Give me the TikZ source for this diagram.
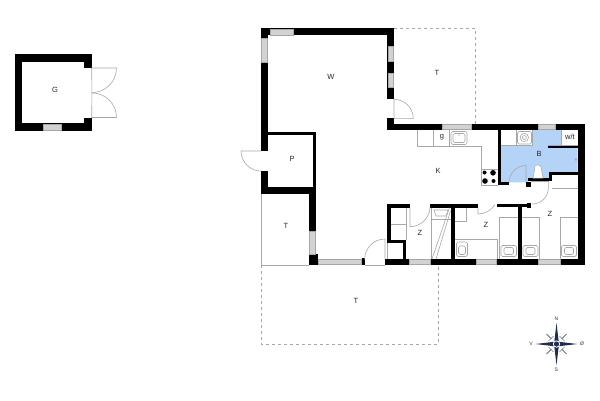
\documentclass[tikz,border=0pt]{standalone}
\usepackage{fontspec}
\setmainfont{Liberation Sans}
\definecolor{bluefill}{HTML}{B5D3F7}
\definecolor{thinline}{HTML}{A8A8A8}
\definecolor{compassblue}{HTML}{1F2F4F}
\tikzset{
  win/.style={fill=gray!35,draw=gray!70,line width=0.5pt},
  thinln/.style={draw=thinline,line width=0.6pt},
  terrace/.style={draw=thinline,line width=0.7pt,dash pattern=on 3pt off 3pt},
  lbl/.style={font=\fontsize{7.5}{8}\selectfont,text=black!85,inner sep=0pt},
  clbl/.style={font=\fontsize{5}{5}\selectfont,text=black!80,inner sep=0pt},
}
\newcommand{\wl}[2]{\fill[black] (#1) rectangle (#2);}
\newcommand{\wn}[2]{\draw[win] (#1) rectangle (#2);}
\newcommand{\pillow}[2]{\draw[thinln,rounded corners=1.5pt] (#1) rectangle (#2);}
\begin{document}
\begin{tikzpicture}[x=1pt,y=-1pt]
\useasboundingbox (0,0) rectangle (600,400);
\fill[white] (0,0) rectangle (600,400);

% terraces
\draw[terrace] (394,28.3) -- (475.7,28.3) -- (475.7,123.5);
\draw[terrace] (261,265) -- (261,344) -- (438.3,344) -- (438.3,265);
\draw[thinln] (261,194) -- (261,265) -- (309,265);
\draw[thinln] (364.7,265) -- (385,265);

% bathroom floor
\fill[bluefill] (500.7,145) -- (532.7,145) -- (532.7,130) -- (561.7,130) -- (561.7,145) -- (548.3,145)
  -- (548.3,148) -- (577.7,148) -- (577.7,172.7) -- (549,172.7) -- (549,178) -- (528,178) -- (528,182.3)
  -- (500.7,182.3) -- cycle;

% garage
\wl{15,54.3}{91.7,61.7}
\wl{15,54.3}{22.3,130.7}
\wl{15,123.3}{91.7,130.7}
\wl{84,54.3}{91.7,68}
\wl{84,117.5}{91.7,130.7}
\wn{43.3,123.8}{61.7,130.5}
\draw[thinln] (91.7,68) -- (116.5,68) arc[start angle=0,end angle=90,radius=24.6] -- cycle;
\draw[thinln] (91.7,117.5) -- (116.5,117.5) arc[start angle=0,end angle=-90,radius=24.6] -- cycle;

% outer walls of the house
\wl{261,28.3}{394,35}
\wl{261,28.3}{268,151}
\wl{261,171}{268,194}
\wl{387.3,28.3}{394,99.3}
\wl{387.3,118.3}{394,130}
\wl{387.3,123.5}{585,130}
\wl{577.7,123.5}{585,265}
\wl{261,187.3}{316,194}
\wl{268,131.7}{316,135.3}
\wl{313,131.7}{316,194}
\wl{309,187.3}{316,254.3}
\wl{309,254.3}{318.3,265}
\wl{361.7,258.3}{364.7,265}
\wl{384.7,259}{409,265}
\wl{430,259}{476.7,265}
\wl{496.7,259}{538.3,265}
\wl{560,259}{585,265}

% windows
\wn{270.7,28.8}{293.7,34.8}
\wn{261.5,38.3}{267.5,62.3}
\wn{387.8,46}{393.5,61}
\wn{387.8,73.3}{393.5,87.7}
\wn{442.7,124}{471.7,129.7}
\wn{538.3,124}{555,129.7}
\wn{309.5,231}{315.5,254.3}
\wn{318.3,258.8}{361.7,264.7}
\wn{409,259.5}{430,264.7}
\wn{476.7,259.5}{496.7,264.7}
\wn{538.3,259.5}{560,264.7}

% inner walls
\wl{497.5,130}{500.7,185.3}
\wl{497.5,182.3}{509,185.3}
\wl{526,182}{531,186.5}
\wl{528,178}{552,181}
\wl{549,172.7}{552,181}
\wl{549,172}{577.7,175}
\wl{548.3,145}{577.7,148}
\wl{387.3,204.3}{410,207.7}
\wl{387.3,204.3}{390.7,243}
\wl{387.3,240}{406,243}
\wl{403,240}{406,259}
\wl{430,204.3}{477.7,207.7}
\wl{450.7,204.3}{455,259}
\wl{497.3,204.3}{531,207.2}
\wl{526.5,203.3}{531,208}
\wl{518.3,204.3}{521.7,259}

% doors
\draw[thinln] (394,99.3) arc[start angle=-90,end angle=0,radius=19.3] -- (394,118.6) -- cycle;
\draw[thinln] (261,151) -- (241,151) arc[start angle=180,end angle=90,radius=20];
\draw[thinln] (385,259) -- (385,239) arc[start angle=-90,end angle=-180,radius=20.3];
\draw[thinln] (526,182) -- (526,165.5) arc[start angle=-90,end angle=-180,radius=17];
\draw[thinln] (548.3,181) -- (548.3,188) arc[start angle=0,end angle=90,radius=16];
\draw[thinln] (410,207.7) -- (410,226.7) arc[start angle=90,end angle=0,radius=20];
\draw[thinln] (478,207.7) -- (478,214) arc[start angle=90,end angle=32,radius=20];

% kitchen
\draw[thinln] (417.3,130) -- (417.3,146) -- (481,146) -- (481,185) -- (497.5,185);
\draw[thinln] (433.3,130) -- (433.3,146);
\draw[thinln] (449.3,130) -- (449.3,146);
\draw[thinln,rounded corners=2pt] (451,131.5) rectangle (467,144.5);
\draw[thinln,rounded corners=2pt] (453,133.5) rectangle (465,142.5);
\fill[black!70] (459,135) circle (0.5);
\draw[thinln] (481,169) -- (497.5,169);
\fill[black] (484.5,172.5) circle (2);
\fill[black] (493,172.8) circle (2.8);
\fill[black] (485,181) circle (2.8);
\fill[black] (493.5,181) circle (2);

% bathroom fittings
\fill[white] (500.7,130) rectangle (532.7,145);
\draw[thinln] (500.7,145) -- (532.7,145) -- (532.7,130);
\draw[thinln] (516.5,130) -- (516.5,145);
\draw[thinln,rounded corners=1.5pt] (517.5,131.5) rectangle (531.5,144);
\draw[thinln] (524.3,137.5) circle (4.2);
\draw[thinln] (524.3,137.5) circle (2);
\fill[white,draw=thinline,line width=0.5pt] (533,178) -- (534.5,170) .. controls (533,163) and (542,163) .. (541.5,170) -- (543,178) -- cycle;
\fill[white] (561.7,130) rectangle (577.7,145);
\draw[thinln] (561.7,130) -- (561.7,145);
\draw[thinln] (548.3,145) -- (577.7,145);
\draw[thinln,line width=0.4pt] (576,159.5) circle (1);
\draw[thinln] (552,188.3) -- (577.7,188.3);
\draw[thinln] (531,181.5) -- (549,181.5);

% left bedroom closets
\draw[thinln] (390.7,224) -- (406,224) -- (406,240);
\draw[thinln] (406,207.7) -- (406,224);
\draw[thinln] (387.5,243) -- (387.5,259);
\draw[thinln] (431.5,207.7) -- (431.5,259);
\draw[thinln] (431.5,219) -- (450.7,219);
\draw[thinln] (434,210) -- (436,216) -- (446,216) -- (448,210) -- cycle;
\draw[thinln] (449.5,207.7) -- (432,259);
\draw[thinln] (450.5,211) -- (436,259);

% middle room
\draw[thinln] (455,221) -- (466.7,221) -- (466.7,207.7);
\draw[thinln] (455,239) -- (497.5,239) -- (497.5,259);
\pillow{456.5,242}{467.5,256.5}
\pillow{458.5,246}{465.5,254.5}

% beds
\draw[thinln] (518.3,217) -- (499.3,217) -- (499.3,259);
\draw[thinln] (521.7,217) -- (539.3,217) -- (539.3,259);
\draw[thinln] (577.7,217) -- (560,217) -- (560,259);
\pillow{501,245.5}{516.5,256.5}
\pillow{504,247.5}{513.5,254.5}
\pillow{523,245.5}{538,256.5}
\pillow{526,247.5}{535,254.5}
\pillow{561.5,245.5}{576.5,256.5}
\pillow{564.5,247.5}{573.5,254.5}

% labels
\node[lbl] (lG) at (55,90) {G};
\node[lbl] (lW) at (331,77) {W};
\node[lbl] (lT1) at (437,73) {T};
\node[lbl] (lg) at (442,137) {g};
\node[lbl] (lK) at (438,171) {K};
\node[lbl] (lB) at (539,154) {B};
\node[lbl] (lwt) at (570,137) {w/t};
\node[lbl] (lP) at (292,159) {P};
\node[lbl] (lT2) at (286,226) {T};
\node[lbl] (lZ1) at (420,233) {Z};
\node[lbl] (lZ2) at (486,225) {Z};
\node[lbl] (lZ3) at (550,214) {Z};
\node[lbl] (lT3) at (356,301) {T};

% compass
\begin{scope}[shift={(556.5,344)}]
  \draw[compassblue,line width=0.6pt] (-5,-5) -- (-10,-10) (5,-5) -- (10,-10) (-5,5) -- (-10,10) (5,5) -- (10,10);
  \draw[gray,line width=0.6pt] (-8,-3) -- (-3,-8) (8,-3) -- (3,-8) (-8,3) -- (-3,8) (8,3) -- (3,8);
  \fill[compassblue] (0,-21) -- (2.5,0) -- (0,21) -- (-2.5,0) -- cycle;
  \fill[compassblue] (-21,0) -- (0,-2.5) -- (21,0) -- (0,2.5) -- cycle;
  \fill[white] (0,0) circle (3.6);
  \fill[compassblue] (0,0) circle (2.6);
\end{scope}
\node[clbl] (cN) at (556.3,319) {N};
\node[clbl] (cS) at (556.3,369.5) {S};
\node[clbl] (cV) at (531,344) {V};
\node[clbl] (cE) at (582,344) {Ø};
\end{tikzpicture}
\end{document}
